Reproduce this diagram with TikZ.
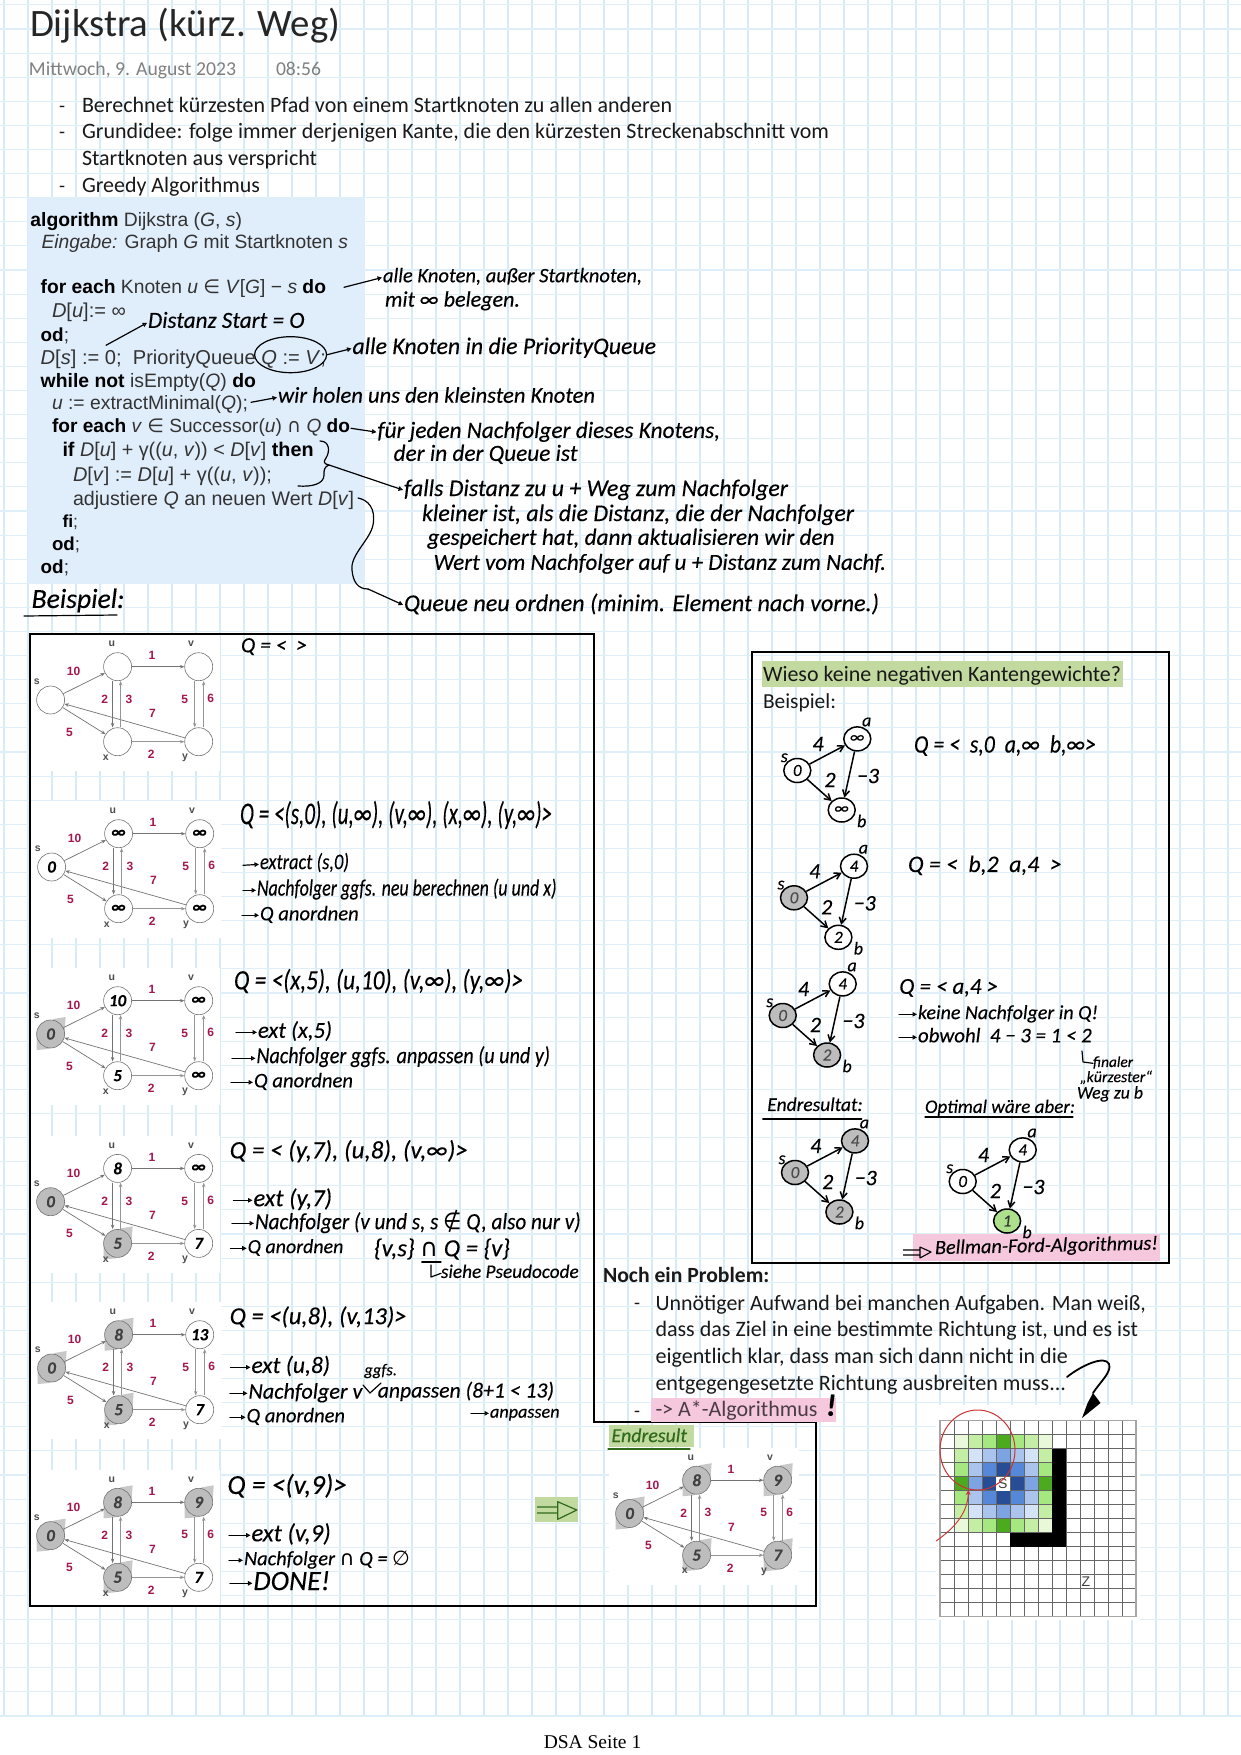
\documentclass[tikz,border=0pt]{standalone}
\usepackage{fontspec}
\usetikzlibrary{arrows.meta,shapes.geometric}
\newfontfamily\bodyfont{Carlito}
\newfontfamily\handfont[FakeBold=0.25]{Carlito}
\newfontfamily\algofont{Liberation Sans}
\newfontfamily\footfont{Liberation Serif}
\newfontfamily\dejavu{DejaVu Sans}
\definecolor{gridc}{HTML}{D6EBF8}
\definecolor{panelc}{HTML}{E0EDFA}
\definecolor{weightc}{HTML}{A5174F}
\definecolor{doneg}{HTML}{BDBDBD}
\definecolor{patchg}{HTML}{C8C8C8}
\definecolor{hlgreen}{HTML}{C2D9A0}
\definecolor{hlpink}{HTML}{F6C8DE}
\definecolor{dgreen}{HTML}{2F6B1B}
\definecolor{gA}{HTML}{E8F8D8}
\definecolor{gB}{HTML}{C5EEA5}
\definecolor{gC}{HTML}{A5E880}
\definecolor{gD}{HTML}{4CAA1E}
\definecolor{bA}{HTML}{D5E3F8}
\definecolor{bB}{HTML}{ABC4EE}
\definecolor{bC}{HTML}{7DA3E3}
\definecolor{bD}{HTML}{5588D8}
\definecolor{bE}{HTML}{264D96}
\newcommand\sym[1]{{\dejavu #1}}
\newcommand\tall[2]{\scalebox{1}[#1]{#2}}
\tikzset{
  txt/.style={anchor=west,inner sep=0pt,outer sep=0pt},
  hand/.style={txt,font=\handfont\itshape\fontsize{20}{24}\selectfont,text=black},
  body/.style={txt,font=\bodyfont\fontsize{20}{24}\selectfont,text=black!90},
  algo/.style={txt,font=\algofont\fontsize{18}{22}\selectfont,text=black!80},
  hline/.style={line width=1.2pt,line cap=round,line join=round,black},
  harrow/.style={hline,-{Triangle[open,length=4.5pt,width=4.5pt]},shorten >=1pt},
  gnode/.style={circle,draw=black!55,line width=.6pt,fill=white,minimum size=28pt,inner sep=0pt,font=\handfont\bfseries\itshape\fontsize{17}{17}\selectfont},
  done/.style={fill=doneg,text=black!75},
  ged/.style={draw=black!55,line width=.7pt,-{Stealth[length=4.5pt,width=3.5pt]}},
  gedb/.style={draw=black!42,line width=1.1pt,-{Stealth[length=4.5pt,width=3.5pt]}},
  glabel/.style={inner sep=0pt,font=\algofont\bfseries\fontsize{10.5}{11}\selectfont,text=black!70},
  gweight/.style={inner sep=0pt,font=\algofont\bfseries\fontsize{12}{12}\selectfont,text=weightc},
  mnode/.style={ellipse,draw=black,line width=1.5pt,fill=white,minimum width=27pt,minimum height=24pt,inner sep=0pt,font=\handfont\itshape\fontsize{17}{17}\selectfont},
  mdone/.style={fill=doneg,text=black!70},
  mgreen/.style={fill=gB!80!gD,text=black!80},
  med/.style={line width=1.5pt,black,-{Straight Barb[length=6pt,width=7pt]}},
  mlabel/.style={inner sep=0pt,font=\handfont\itshape\fontsize{18}{18}\selectfont},
  mtext/.style={inner sep=0pt,font=\handfont\itshape\fontsize{22}{22}\selectfont},
  gCs/.style={done}, gDs/.style={done}, gDx/.style={done},
  gEs/.style={done}, gEx/.style={done}, gEu/.style={done},
  gFs/.style={done}, gFx/.style={done}, gFu/.style={done}, gFv/.style={done},
  gGs/.style={done}, gGx/.style={done}, gGu/.style={done}, gGv/.style={done}, gGy/.style={done},
  mBs/.style={mdone}, mCs/.style={mdone}, mCb/.style={mdone},
  mDs/.style={mdone}, mDa/.style={mdone}, mDb/.style={mdone}, mEb/.style={mgreen},
}
\newcommand\tx[6][hand]{\pgfmathsetlengthmacro\myw{#4-#3}\node[#1] (#2) at ({#3},{#5+2.3}) {\resizebox{\myw}{!}{\strut #6}};}
\newcommand\harr[4]{\coordinate (#1) at (#2,#3+2.3); \draw[harrow] (#1) -- (#4.west);}
\newcommand\gbg{\fill[white] (30,634) rectangle (220,771);}
\newcommand\gpatch[2]{\fill[patchg] (#1-14,#2+16) -- (#1-14,#2+2) -- (#1+3,#2-15) -- (#1+15,#2-17) -- (#1+14,#2-2) -- (#1-2,#2+15) -- cycle;}
% one weighted graph: #1 prefix, #2..#6 values of s,u,v,x,y
\newcommand\gr[6]{%
  \node[gnode,#1s/.try] (s) at (50.6,700) {#2};
  \node[gnode,#1u/.try] (u) at (117.6,666.7) {#3};
  \node[gnode,#1v/.try] (v) at (198.7,666.7) {#4};
  \node[gnode,#1x/.try] (x) at (117.6,741.7) {#5};
  \node[gnode,#1y/.try] (y) at (198.7,741.7) {#6};
  \draw[ged] (s) -- (u);
  \draw[ged] (u) -- (v);
  \draw[ged] (s) -- (x);
  \draw[ged] (y) -- (s);
  \draw[gedb] (x) -- (y);
  \draw[ged] ([xshift=-5pt]u.south) -- ([xshift=-5pt]x.north);
  \draw[gedb] ([xshift=3pt]x.north) -- ([xshift=3pt]u.south);
  \draw[gedb] ([xshift=-4pt]v.south) -- ([xshift=-4pt]y.north);
  \draw[gedb] ([xshift=5pt]y.north) -- ([xshift=5pt]v.south);
  \node[glabel] (ls) at (36.8,682) {s};
  \node[glabel] (lu) at (111.8,644) {u};
  \node[glabel] (lv) at (191,644) {v};
  \node[glabel] (lx) at (105.7,757.7) {x};
  \node[glabel] (ly) at (185,758) {y};
  \node[gweight] (w1) at (73.6,671.7) {10};
  \node[gweight] (w2) at (152,655.7) {1};
  \node[gweight] (w3) at (104.6,699.3) {2};
  \node[gweight] (w4) at (129,699.3) {3};
  \node[gweight] (w5) at (184.6,699.3) {5};
  \node[gweight] (w6) at (210.6,698.7) {6};
  \node[gweight] (w7) at (152.4,713.7) {7};
  \node[gweight] (w8) at (69.4,732) {5};
  \node[gweight] (w9) at (151.3,754.7) {2};
}
% small handwritten graph: #1 prefix, #2..#4 values of s,a,b
\newcommand\mg[4]{%
  \node[mnode,#1s/.try] (s) at (797.3,770.5) {#2};
  \node[mnode,#1a/.try] (a) at (857.3,738.9) {#3};
  \node[mnode,#1b/.try] (b) at (841.7,810) {#4};
  \draw[med] (s) -- (a);
  \draw[med] (s) -- (b);
  \draw[med] (a) -- (b);
  \node[mlabel] (ls) at (784.3,757.8) {s};
  \node[mlabel] (la) at (866.7,722) {a};
  \node[mlabel] (lb) at (861.7,821) {b};
  \node[mtext] (w1) at (818,744) {4};
  \node[mtext] (w2) at (830,780) {2};
  \node[mtext] (w3) at (868,776) {−3};
}
\begin{document}
\begin{tikzpicture}[x=1pt,y=-1pt]
\useasboundingbox (0,0) rectangle (1241,1755);
\fill[white] (0,0) rectangle (1241,1755);
% squared paper
\foreach \i in {0,...,51}{\draw[gridc,line width=1.2pt] ({4+24*\i},0) -- ({4+24*\i},1716);}
\foreach \k in {0,...,71}{\draw[gridc!80!white,line width=1.1pt] (0,{1716-24.1*\k}) -- (1241,{1716-24.1*\k});}
% heading
\tx[body]{title}{30}{340}{25}{\color{black!85}Dijkstra (kürz. Weg)}
\tx[body]{date}{29}{236}{68.5}{\color{black!50}Mittwoch, 9. August 2023}
\tx[body]{time}{276}{321}{68.5}{\color{black!50}08:56}
\tx[body]{d1}{59}{65}{105}{-}
\tx[body]{t1}{82}{672}{105}{Berechnet kürzesten Pfad von einem Startknoten zu allen anderen}
\tx[body]{d2}{59}{65}{131}{-}
\tx[body]{t2}{82}{829}{131}{Grundidee: folge immer derjenigen Kante, die den kürzesten Streckenabschnitt vom}
\tx[body]{t2b}{82}{317}{158}{Startknoten aus verspricht}
\tx[body]{d3}{59}{65}{185}{-}
\tx[body]{t3}{82}{260}{185}{Greedy Algorithmus}
% algorithm panel
\fill[panelc] (28,198) rectangle (365,583);
\tx[algo]{a1}{30.4}{242}{219.5}{\textbf{\color{black}algorithm} Dijkstra (\textit{G}, \textit{s})}
\tx[algo]{a2}{41.5}{348}{241}{\textit{Eingabe:} Graph \textit{G} mit Startknoten \textit{s}}
\tx[algo]{a3}{40.7}{326}{286.7}{\textbf{\color{black}for each} Knoten \textit{u} \sym{∈} \textit{V}[\textit{G}] − \textit{s} \textbf{\color{black}do}}
\tx[algo]{a4}{52}{126}{310}{\textit{D}[\textit{u}]:= ∞}
\tx[algo]{a5}{40.7}{69}{335}{\textbf{\color{black}od};}
\tx[algo]{a6}{40.7}{326}{357}{\textit{D}[\textit{s}] := 0;\ \ PriorityQueue \textit{Q} := \textit{V};}
\tx[algo]{a7}{40.7}{256}{380}{\textbf{\color{black}while not} isEmpty(\textit{Q}) \textbf{\color{black}do}}
\tx[algo]{a8}{52}{248}{402.5}{\textit{u} := extractMinimal(\textit{Q});}
\tx[algo]{a9}{52}{350}{426}{\textbf{\color{black}for each} \textit{v} \sym{∈} Successor(\textit{u}) \sym{∩} \textit{Q} \textbf{\color{black}do}}
\tx[algo]{a10}{62.5}{313.6}{449}{\textbf{\color{black}if} \textit{D}[\textit{u}] + γ((\textit{u}, \textit{v})) < \textit{D}[\textit{v}] \textbf{\color{black}then}}
\tx[algo]{a11}{73}{272}{474.5}{\textit{D}[\textit{v}] := \textit{D}[\textit{u}] + γ((\textit{u}, \textit{v}));}
\tx[algo]{a12}{73}{354}{498}{adjustiere \textit{Q} an neuen Wert \textit{D}[\textit{v}]}
\tx[algo]{a13}{62.5}{78}{521}{\textbf{\color{black}fi};}
\tx[algo]{a14}{52}{80}{543.7}{\textbf{\color{black}od};}
\tx[algo]{a15}{40.7}{69}{566.6}{\textbf{\color{black}od};}
% annotations of the algorithm
\tx{n1}{383}{642}{275}{alle Knoten, außer Startknoten,}
\tx{n1b}{385}{520}{299}{mit ∞ belegen.}
\harr{n1s}{344}{285}{n1}
\tx{n2}{148}{304.5}{320}{Distanz Start = O}
\harr{n2s}{106}{343}{n2}
\node[ellipse,draw=black,line width=1.2pt,minimum width=72pt,minimum height=36pt,inner sep=0pt] (qcirc) at (290.6,354.7) {};
\tx{n3}{352.5}{656}{346}{alle Knoten in die PriorityQueue}
\draw[harrow] (qcirc.east) -- (n3.west);
\tx{n4}{278}{595}{395}{wir holen uns den kleinsten Knoten}
\harr{n4s}{251}{400}{n4}
\tx{n5}{377.5}{720}{430}{für jeden Nachfolger dieses Knotens,}
\tx{n5b}{393.6}{577.5}{453}{der in der Queue ist}
\harr{n5s}{351}{426}{n5}
\tx{n6}{404}{788}{488}{falls Distanz zu u + Weg zum Nachfolger}
\tx{n6b}{422}{854}{513}{kleiner ist, als die Distanz, die der Nachfolger}
\tx{n6c}{427.5}{834.6}{537}{gespeichert hat, dann aktualisieren wir den}
\tx{n6d}{433.6}{886}{562}{Wert vom Nachfolger auf u + Distanz zum Nachf.}
\tx{n7}{404}{879}{603}{Queue neu ordnen (minim. Element nach vorne.)}
\draw[hline] (320,441) .. controls (330,441) and (330,452) .. (326,458) .. controls (323,462) and (324,464) .. (329,465) .. controls (324,467) and (324,470) .. (324,475) .. controls (324,484) and (312,487) .. (298,486);
\coordinate (brace) at (329,465);
\draw[harrow] (brace) -- (n6.west);
\coordinate (a12e) at (358,498);
\coordinate (n7a) at (368,589);
\draw[hline] (a12e) .. controls (368,500) and (376,508) .. (373,525) .. controls (370,540) and (350,555) .. (352,570) .. controls (353,582) and (358,589) .. (n7a);
\draw[harrow] (n7a) -- (n7.west);
\tx{bsp}{31.6}{124.5}{599}{Beispiel:}
\coordinate (bspa) at (24,616);
\coordinate (bspb) at (117,615);
\draw[hline] (bspa) -- (bspb);
% graph steps
\begin{scope}[shift={(0,0)},name prefix=gA-]
  \gbg \gr{gA}{}{}{}{}{}
\end{scope}
\begin{scope}[shift={(1,167)},name prefix=gB-]
  \gbg \gr{gB}{0}{∞}{∞}{∞}{∞}
\end{scope}
\begin{scope}[shift={(0,334)},name prefix=gC-]
  \gbg \gpatch{50.6}{700} \gr{gC}{0}{10}{∞}{5}{∞}
\end{scope}
\begin{scope}[shift={(0,501.7)},name prefix=gD-]
  \gbg \gpatch{117.6}{741.7} \gr{gD}{0}{8}{∞}{5}{7}
\end{scope}
\begin{scope}[shift={(1,668)},name prefix=gE-]
  \gbg \gpatch{50.6}{700} \gpatch{117.6}{666.7} \gpatch{117.6}{741.7} \gr{gE}{0}{8}{13}{5}{7}
\end{scope}
\begin{scope}[shift={(0,835.6)},name prefix=gF-]
  \gbg \gpatch{50.6}{700} \gpatch{117.6}{666.7} \gpatch{198.7}{666.7} \gpatch{117.6}{741.7} \gr{gF}{0}{8}{9}{5}{7}
\end{scope}
\begin{scope}[shift={(579,813.5)},name prefix=gG-]
  \gbg \gpatch{50.6}{700} \gpatch{117.6}{666.7} \gpatch{198.7}{666.7} \gpatch{117.6}{741.7} \gpatch{198.7}{741.7} \gr{gG}{0}{8}{9}{5}{7}
\end{scope}
% queue notes, step by step
\tx{q1}{241}{307}{644.7}{Q = <\ \ >}
\tx{q2}{240}{552}{814}{\tall{1.5}{Q = <(s,0), (u,∞), (v,∞), (x,∞), (y,∞)>}}
\tx{q2a}{260}{349}{862}{\tall{1.2}{extract (s,0)}}
\harr{q2as}{243}{863}{q2a}
\tx{q2b}{257}{556.5}{888}{\tall{1.3}{Nachfolger ggfs. neu berechnen (u und x)}}
\harr{q2bs}{243}{888}{q2b}
\tx{q2c}{260}{358.7}{913}{Q anordnen}
\harr{q2cs}{242}{913}{q2c}
\tx{q3}{234}{523}{981}{\tall{1.2}{Q = <(x,5), (u,10), (v,∞), (y,∞)>}}
\tx{q3a}{258}{332}{1030}{ext (x,5)}
\harr{q3as}{236}{1030}{q3a}
\tx{q3b}{256.5}{550}{1056}{\tall{1.15}{Nachfolger ggfs. anpassen (u und y)}}
\harr{q3bs}{232}{1056}{q3b}
\tx{q3c}{254}{353}{1080}{Q anordnen}
\harr{q3cs}{231}{1080}{q3c}
\tx{q4}{229.7}{467.8}{1150}{Q = < (y,7), (u,8), (v,∞)>}
\tx{q4a}{253.5}{332}{1198}{ext (y,7)}
\harr{q4as}{233.5}{1198}{q4a}
\tx{q4b}{255}{580.6}{1221}{\tall{1.1}{Nachfolger (v und s, s \sym{∉} Q, also nur v)}}
\harr{q4bs}{232}{1221}{q4b}
\tx{q4c}{247.7}{343.4}{1246}{Q anordnen}
\harr{q4cs}{230.5}{1246}{q4c}
\tx{q4d}{374}{510}{1248}{\{v,s\} \sym{∩} Q = \{v\}}
\tx{q4e}{441}{578.7}{1271}{siehe Pseudocode}
\coordinate (q4u) at (421.8,1262);
\coordinate (q4v) at (441,1262);
\draw[hline] (q4u) -- (q4v);
\coordinate (q4h) at (431,1265);
\draw[hline] (q4h) -- (431,1277) -- (q4e.west);
\tx{q5}{229.7}{406.5}{1316}{Q = <(u,8), (v,13)>}
\tx{q5a}{251.5}{330}{1365}{ext (u,8)}
\harr{q5as}{230.5}{1365}{q5a}
\tx{q5b}{248.5}{362.5}{1391}{Nachfolger v}
\harr{q5bs}{230}{1391}{q5b}
\tx{q5g}{364.4}{397}{1369}{ggfs.}
\tx{q5h}{377.8}{554}{1390}{anpassen (8+1 < 13)}
\coordinate (q5k) at (363,1385);
\coordinate (q5l) at (381,1383);
\draw[hline] (q5k) -- (370,1393) -- (q5l);
\tx{q5i}{490}{559.6}{1411}{anpassen}
\harr{q5is}{471}{1411}{q5i}
\tx{q5c}{246.6}{345}{1415}{Q anordnen}
\harr{q5cs}{230}{1415}{q5c}
\tx{q6}{227.4}{347}{1485}{Q = <(v,9)>}
\tx{q6a}{251.5}{330.7}{1533}{ext (v,9)}
\harr{q6as}{229}{1533}{q6a}
\tx{q6b}{244}{410}{1558}{Nachfolger \sym{∩} Q = \sym{∅}}
\harr{q6bs}{229}{1558}{q6b}
\tx{q6c}{253.4}{330}{1581}{DONE!}
\harr{q6cs}{230}{1581}{q6c}
% Endresult
\fill[hlgreen] (534.7,1496.7) rectangle (578,1521.7);
\draw[line width=1.2pt,dgreen,line join=round] (537,1507) -- (557,1507) (537,1513) -- (557,1513) (557.7,1501.7) -- (576.8,1510) -- (557.7,1519.3) -- cycle;
\fill[hlgreen] (608.5,1425) rectangle (693.6,1447);
\tx[hand,text=dgreen]{endr}{611.5}{687}{1435}{Endresult}
\coordinate (endl) at (608,1449);
\coordinate (endm) at (690,1449);
\draw[hline,dgreen] (endl) -- (endm);
% left frame
\draw[black,line width=1.8pt,line join=miter] (30,634) -- (594,634) -- (594,1422) -- (816,1422) -- (816,1606) -- (30,1606) -- cycle;
% right frame
\draw[black,line width=1.8pt] (752,652) rectangle (1169,1263);
\fill[hlgreen] (762.3,660.6) rectangle (1123,686.7);
\tx[body]{wieso}{763}{1121}{673.6}{Wieso keine negativen Kantengewichte?}
\tx[body]{bsp2}{763}{836}{701}{Beispiel:}
\fill[hlpink] (913,1234) rectangle (1160,1261);
\begin{scope}[name prefix=mA-]
  \mg{mA}{0}{∞}{∞}
\end{scope}
\begin{scope}[shift={(-3.3,127.3)},name prefix=mB-]
  \mg{mB}{0}{4}{2}
\end{scope}
\begin{scope}[shift={(-14.6,245)},name prefix=mC-]
  \mg{mC}{0}{4}{2}
\end{scope}
\begin{scope}[shift={(-2.3,402)},name prefix=mD-]
  \mg{mD}{0}{4}{2}
\end{scope}
\begin{scope}[shift={(165.4,411)},name prefix=mE-]
  \mg{mE}{0}{4}{1}
\end{scope}
\tx{r1}{914}{1096}{745}{\tall{1.15}{Q = <\ \ s,0\ \ a,∞\ \ b,∞>}}
\tx{r2}{908}{1061.7}{864}{Q = <\ \ b,2\ \ a,4\ \ >}
\tx{r3}{899.3}{998}{986}{Q = <\ a,4 >}
\tx{r3a}{918}{1098}{1012}{keine Nachfolger in Q!}
\harr{r3as}{899}{1012}{r3a}
\tx{r3b}{918}{1091.7}{1035}{obwohl\ \ 4 − 3 = 1 < 2}
\harr{r3bs}{899}{1035}{r3b}
\tx{r3c}{1093}{1133}{1061}{finaler}
\tx{r3d}{1080}{1152}{1076}{„kürzester“}
\tx{r3e}{1077}{1143}{1092}{Weg zu b}
\coordinate (r3h) at (1082,1051);
\draw[hline] (r3h) -- (1083,1062) -- (r3c.west);
\tx{r4}{767.3}{862.7}{1104}{Endresultat:}
\coordinate (r4a) at (762.7,1119);
\coordinate (r4b) at (861.7,1119);
\draw[hline] (r4a) -- (r4b);
\tx{r5}{925}{1075}{1106}{Optimal wäre aber:}
\coordinate (r5a) at (925,1117);
\coordinate (r5b) at (1073,1117);
\draw[hline] (r5a) -- (r5b);
\draw[line width=1.1pt,black,line join=round] (903,1250) -- (920,1250) (903,1255) -- (920,1255) (920,1247) -- (931,1252) -- (920,1258) -- cycle;
\tx[hand,rotate=1.2]{bf}{935}{1158}{1247}{Bellman-Ford-Algorithmus!}
% second problem
\tx[body,font=\bodyfont\bfseries\fontsize{20}{24}\selectfont]{np}{603}{769.4}{1275}{Noch ein Problem:}
\tx[body]{d4}{634}{640}{1302.7}{-}
\tx[body]{p1}{655.5}{1146}{1302.7}{Unnötiger Aufwand bei manchen Aufgaben. Man weiß,}
\tx[body]{p2}{655.5}{1138}{1329}{dass das Ziel in eine bestimmte Richtung ist, und es ist}
\tx[body]{p3}{655.5}{1068}{1356}{eigentlich klar, dass man sich dann nicht in die}
\tx[body]{p4}{655.5}{1066}{1382.7}{entgegengesetzte Richtung ausbreiten muss...}
\tx[body]{d5}{634}{640}{1410}{-}
\fill[hlpink] (651,1398) rectangle (836,1421.7);
\tx[body,text=black!50!hlpink!60!black]{p5}{655.5}{817.5}{1409}{-> A*-Algorithmus}
\tx[hand,font=\handfont\bfseries\itshape\fontsize{20}{24}\selectfont]{p5x}{826}{836}{1406}{!}
% heuristic grid picture
\fill[white] (936,1405) rectangle (1140,1620);
\begin{scope}[shift={(940,1420.7)},x=14pt,y=-14pt]
  \foreach \i/\j/\c in {1/1/gA,2/1/gB,3/1/gC,4/1/gD,5/1/gC,6/1/gB,7/1/gA,
    1/2/gB,2/2/bA,3/2/bB,4/2/bC,5/2/bB,6/2/bA,7/2/gB,
    1/3/gC,2/3/bB,3/3/bD,4/3/bE,5/3/bD,6/3/bB,7/3/gC,
    1/4/gD,2/4/bC,3/4/bE,5/4/bE,6/4/bC,7/4/gD,
    1/5/gC,2/5/bB,3/5/bD,4/5/bE,5/5/bD,6/5/bB,7/5/gC,
    1/6/gB,2/6/bA,3/6/bB,4/6/bC,5/6/bB,6/6/bA,7/6/gB,
    1/7/gA,2/7/gB,3/7/gC,4/7/gD,5/7/gC,6/7/gB,7/7/gA}{
    \fill[\c] (\i,\j) rectangle ++(1,1);}
  \foreach \i in {1,...,13}{\draw[black!60,line width=.8pt] (\i,0) -- (\i,14);}
  \foreach \j in {1,...,13}{\draw[black!60,line width=.8pt] (0,\j) -- (14,\j);}
  \fill[black] (8,2) rectangle (9,9);
  \fill[black] (5,8) rectangle (9,9);
  \draw[black!35,line width=1.1pt] (0,0) rectangle (14,14);
  \fill[white] (4,4) rectangle (5,5);
\end{scope}
\node[inner sep=0pt,font=\algofont\fontsize{14}{14}\selectfont,text=black!75] (sgoal) at (1002.7,1484) {S};
\node[inner sep=0pt,font=\algofont\fontsize{14}{14}\selectfont,text=black!75] (zgoal) at (1086,1582) {Z};
\draw[red!75!black!80!white,line width=1pt] (977.5,1450) ellipse [x radius=37.5pt,y radius=40pt];
\coordinate (rs) at (936,1541);
\coordinate (re) at (968.3,1490);
\draw[red!75!black!80!white,line width=.9pt,-{Stealth[length=5pt,width=5pt]}] (rs) .. controls (955,1528) and (968,1512) .. (re);
\coordinate (ka) at (1067,1377);
\coordinate (kb) at (1093,1393);
\draw[line width=1.8pt,line cap=round,black] (ka) .. controls (1082,1365) and (1105,1355) .. (1109,1364) .. controls (1112,1372) and (1100,1382) .. (kb);
\fill[black] (kb) -- (1087.6,1403) -- (1082,1418) -- (1100.5,1403) -- cycle;
% footer
\node[inner sep=0pt,font=\footfont\fontsize{19.5}{20}\selectfont,text=black] (foot) at (592.5,1742) {DSA Seite 1};
\end{tikzpicture}
\end{document}
